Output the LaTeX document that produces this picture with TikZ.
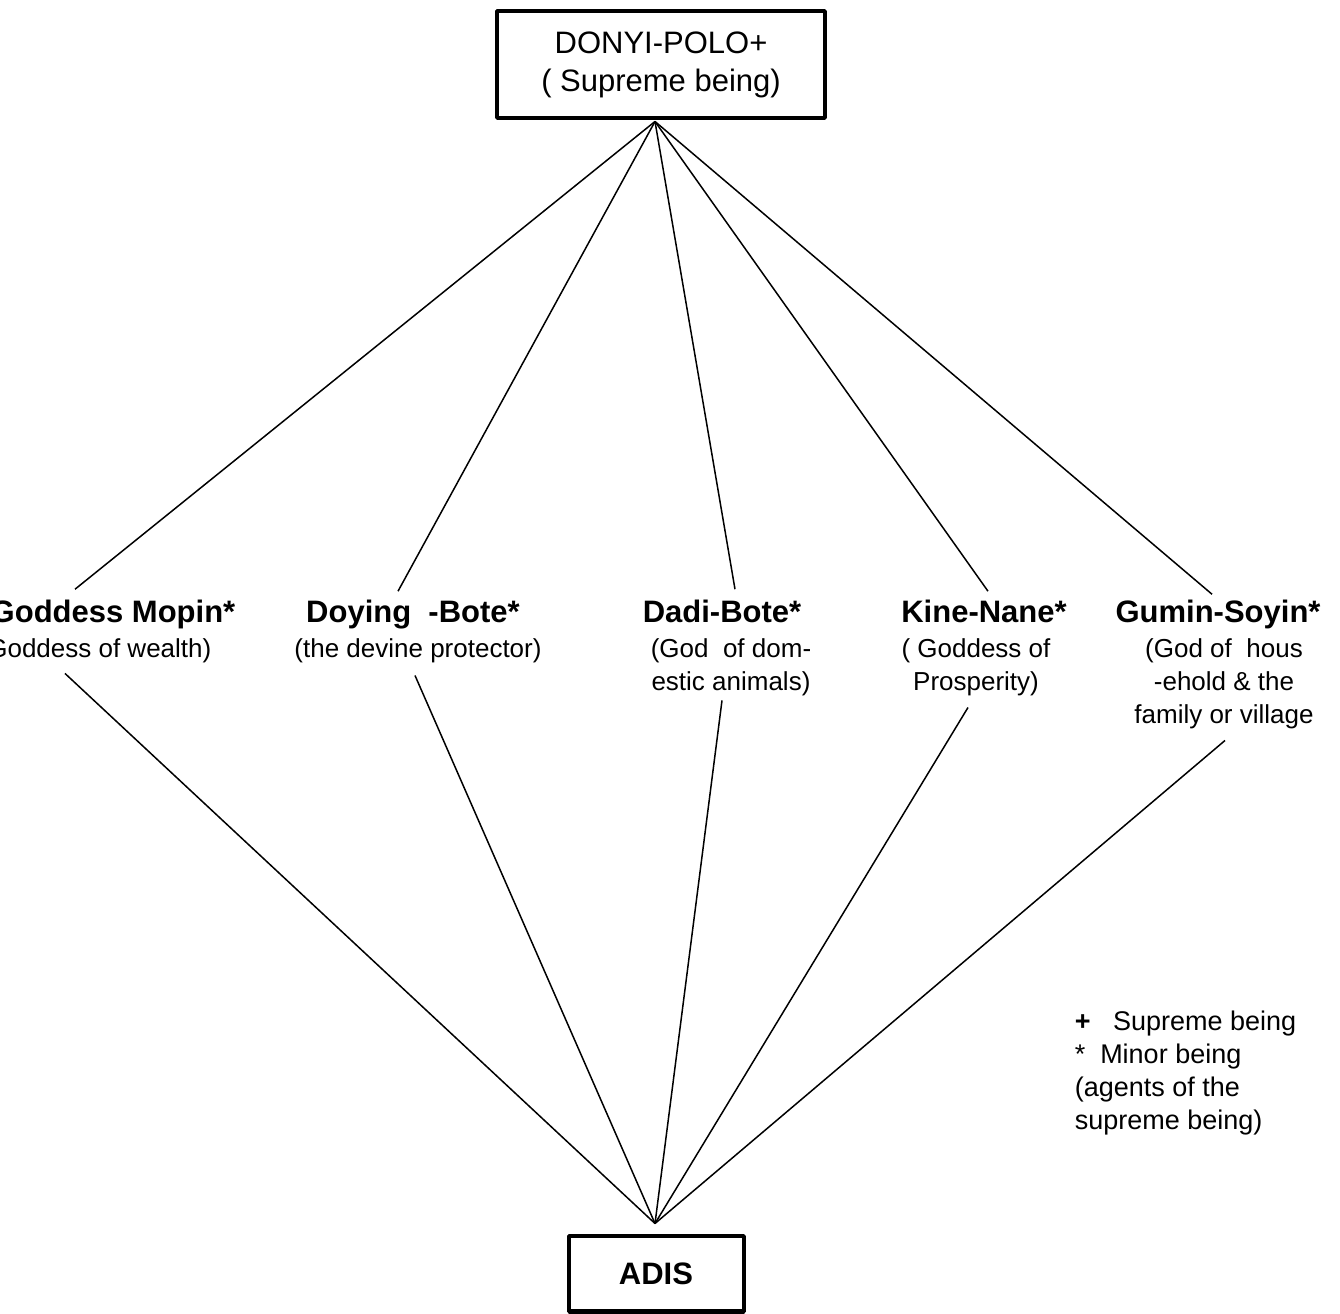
\documentclass[tikz,border=0pt]{standalone}
\usepackage{fontspec}
\setmainfont{Liberation Sans}
\usetikzlibrary{positioning,calc}

\tikzset{
  godbox/.style={draw, line width=4bp, inner sep=0pt, align=center},
  godname/.style={font=\fontsize{31bp}{36bp}\selectfont\bfseries, inner sep=0pt, text height=22bp, text depth=7bp},
  goddesc/.style={font=\fontsize{26bp}{33bp}\selectfont, inner sep=0pt, align=center},
}

\begin{document}
\begin{tikzpicture}[line join=bevel]
    \pgfsetlinewidth{1.5bp}
    \useasboundingbox (0bp,0bp) rectangle (1340bp,1314bp);
  %%
    \pgfsetcolor{black}
    % Node: donyi
    \node[godbox, minimum width=328bp, minimum height=107bp, font=\fontsize{31bp}{38bp}\selectfont] (donyi) at (661bp,1249bp) {DONYI-POLO+\\( Supreme being)};
    % Node: adis
    \node[godbox, minimum width=175bp, minimum height=75bp, font=\fontsize{31bp}{36bp}\selectfont\bfseries] (adis) at (656bp,40bp) {ADIS};
    \coordinate (fork) at ([xshift=-6bp,yshift=-1bp]donyi.south);
    \coordinate (join) at ([xshift=-1bp,yshift=11bp]adis.north);
    % Node: mopin
    \node[godname, anchor=base] (mopin) at (113bp,691bp) {Goddess Mopin*};
    \node[goddesc, below=7bp of mopin, xshift=-18bp] (mopindesc) {(Goddess of wealth)};
    % Node: doying
    \node[godname, anchor=base] (doying) at (413bp,691bp) {Doying\ \ -Bote*};
    \node[goddesc, below=7bp of doying, xshift=5bp] (doyingdesc) {(the devine protector)};
    % Node: dadi
    \node[godname, anchor=base] (dadi) at (722bp,691bp) {Dadi-Bote*};
    \node[goddesc, below=7bp of dadi, xshift=9bp] (dadidesc) {(God\ \ of dom-\\estic animals)};
    % Node: kine
    \node[godname, anchor=base] (kine) at (984bp,691bp) {Kine-Nane*};
    \node[goddesc, below=7bp of kine, xshift=-8bp] (kinedesc) {( Goddess of\\Prosperity)};
    % Node: gumin
    \node[godname, anchor=base] (gumin) at (1218bp,691bp) {Gumin-Soyin*};
    \node[goddesc, below=7bp of gumin, xshift=6bp] (gumindesc) {(God of\ \ hous\\-ehold \& the\\family or village};
    % Node: legend
    \node[goddesc, align=left, font=\fontsize{27bp}{33bp}\selectfont, anchor=north west] (legend) at (1074bp,304bp) {{\bfseries +}\ \ \ Supreme being\\*\ \ Minor being\\(agents of the\\supreme being)};
    % Edge: donyi -> mopin
    \draw (fork) -- ([xshift=-38bp,yshift=11bp]mopin.north);
    % Edge: donyi -> doying
    \draw (fork) -- ([xshift=-15bp,yshift=9bp]doying.north);
    % Edge: donyi -> dadi
    \draw (fork) -- ([xshift=13bp,yshift=11bp]dadi.north);
    % Edge: donyi -> kine
    \draw (fork) -- ([xshift=4bp,yshift=9bp]kine.north);
    % Edge: donyi -> gumin
    \draw (fork) -- ([xshift=-6bp,yshift=6bp]gumin.north);
    % Edge: mopin -> adis
    \draw ([xshift=-30bp,yshift=-10bp]mopindesc.south) -- (join);
    % Edge: doying -> adis
    \draw ([xshift=-3bp,yshift=-12bp]doyingdesc.south) -- (join);
    % Edge: dadi -> adis
    \draw ([xshift=-9bp,yshift=-4bp]dadidesc.south) -- (join);
    % Edge: kine -> adis
    \draw ([xshift=-8bp,yshift=-11bp]kinedesc.south) -- (join);
    % Edge: gumin -> adis
    \draw ([xshift=1bp,yshift=-11bp]gumindesc.south) -- (join);
  %
\end{tikzpicture}
\end{document}
